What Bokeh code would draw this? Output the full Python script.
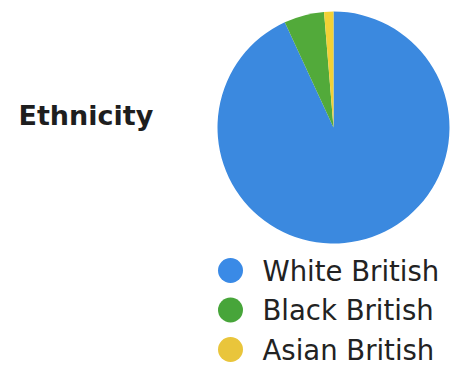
import numpy as np
from bokeh.plotting import figure
from bokeh.models import ColumnDataSource
from bokeh.core.properties import value
from bokeh.embed import file_html
from bokeh.resources import INLINE

categories = ["White British", "Black British", "Asian British"]
shares = [93.1, 5.6, 1.3]
slice_colors = ["#3b89df", "#52aa3a", "#f2d136"]
legend_colors = ["#3a8ae6", "#47a53a", "#e9c53b"]
title_text = "Ethnicity"

W, H = 452, 367

def fy(page_y):
    return H - page_y

def fx(page_x):
    return page_x

vals = np.array(shares, dtype=float)
frac = vals / vals.sum()
cum_after = np.cumsum(frac)
cum_before = cum_after - frac
start = np.pi / 2 - 2 * np.pi * cum_before
end = np.pi / 2 - 2 * np.pi * cum_after

src = ColumnDataSource(dict(cat=categories, start=start, end=end, color=slice_colors))

p = figure(width=W, height=H, x_range=(0, W), y_range=(0, H),
           output_backend="svg", toolbar_location=None,
           min_border=0, outline_line_color=None)
p.axis.visible = False
p.grid.visible = False
p.background_fill_color = "white"

cx, cy, r = fx(333), fy(127), 116
p.wedge(x=cx, y=cy, radius=r, start_angle="start", end_angle="end",
        direction="clock", fill_color="color", line_color=None, source=src)

n = len(categories)
leg = ColumnDataSource(dict(
    x=[fx(230)] * n,
    y=[fy(270 + 39.5 * i) for i in range(n)],
    tx=[fx(262)] * n,
    label=categories,
    color=legend_colors,
))
p.scatter(x="x", y="y", size=25, marker="circle", fill_color="color",
          line_color=None, source=leg)
p.text(x="tx", y="y", text="label", source=leg, text_font=value("DejaVu Sans"),
       text_font_size="27.5px", text_color="#222222", text_baseline="middle",
       text_align="left")

p.text(x=[fx(18)], y=[fy(115)], text=[title_text], text_font=value("DejaVu Sans"),
       text_font_style="bold", text_font_size="27px", text_color="#1e1e1e",
       text_baseline="middle", text_align="left")

open("out.html", "w").write(file_html(p, INLINE))
